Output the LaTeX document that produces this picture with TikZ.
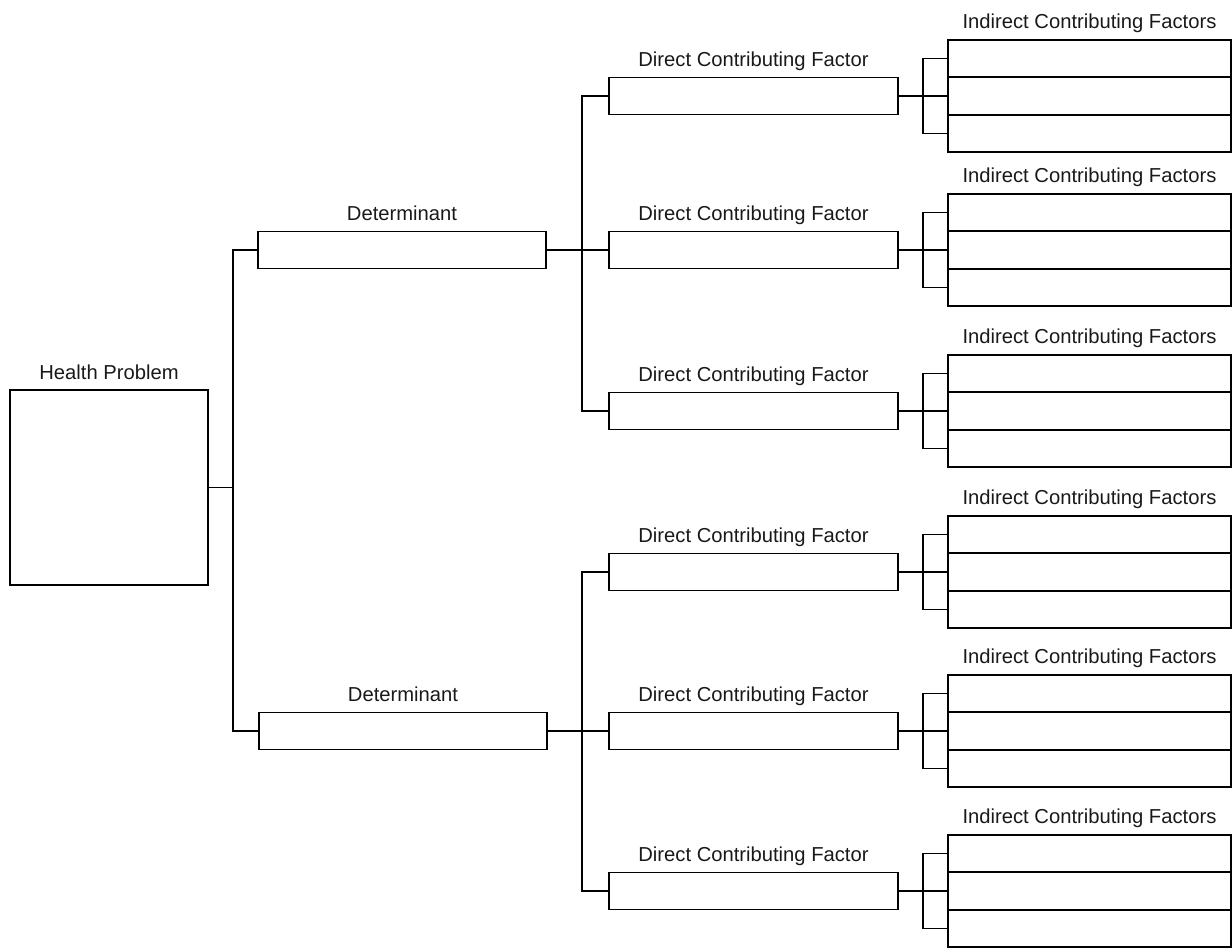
\documentclass[tikz,border=0pt]{standalone}
\usepackage{fontspec}
\setmainfont{Liberation Sans}
\usetikzlibrary{positioning}

\begin{document}
\begin{tikzpicture}[x=0.02cm,y=-0.02cm,
  every node/.style={font=\fontsize{11.5}{13}\selectfont,text=black!90},
  box/.style={draw,line width=1.1pt,inner sep=0pt},
  link/.style={line width=1.1pt},
  hpbox/.style={box,minimum width=3.96cm,minimum height=3.9cm},
  detbox/.style={box,minimum width=5.76cm,minimum height=0.74cm},
  dcfbox/.style={box,minimum width=5.78cm,minimum height=0.74cm},
  indbox/.style={box,minimum width=5.66cm,minimum height=0.75cm},
  lbl/.style={anchor=base,inner sep=0pt}]
\useasboundingbox (0,0) rectangle (1232,948);

% Health problem
\node[hpbox] (hp) at (109,487.5) {};
\node[above=0.2cm of hp,lbl] (hplbl) {Health Problem};

% Determinants
\node[detbox] (det1) at (402,250) {};
\node[above=0.2cm of det1,lbl] (detlbl1) {Determinant};
\node[detbox] (det2) at (403,731) {};
\node[above=0.2cm of det2,lbl] (detlbl2) {Determinant};

% Direct and indirect contributing factors
\foreach \i/\y in {1/96,2/250,3/411,4/572,5/731,6/891}{
  \node[dcfbox] (dcf\i) at (753.5,\y) {};
  \node[above=0.2cm of dcf\i,lbl] (dcflbl\i) {Direct Contributing Factor};
  \foreach \k in {1,2,3}
    \node[indbox] (ind\i\k) at (1089.5,{\y+(\k-2)*37.5}) {};
  \node[above=0.2cm of ind\i1,lbl] (indlbl\i) {Indirect Contributing Factors};
  % bracket
  \draw[link] (dcf\i.east) -- ++(24,0) coordinate (br\i);
  \draw[link] (ind\i1.west) -| (br\i) |- (ind\i3.west);
  \draw[link] (br\i) -- (ind\i2.west);
}

% Tree lines
\draw[link] (hp.east) -- ++(24,0) coordinate (hpj);
\draw[link] (det1.west) -| (hpj) |- (det2.west);
\draw[link] (det1.east) -- (dcf2.west);
\draw[link] (det2.east) -- (dcf5.west);
\draw[link] (dcf1.west) -- ++(-26,0) |- (dcf3.west);
\draw[link] (dcf4.west) -- ++(-26,0) |- (dcf6.west);

\end{tikzpicture}
\end{document}
